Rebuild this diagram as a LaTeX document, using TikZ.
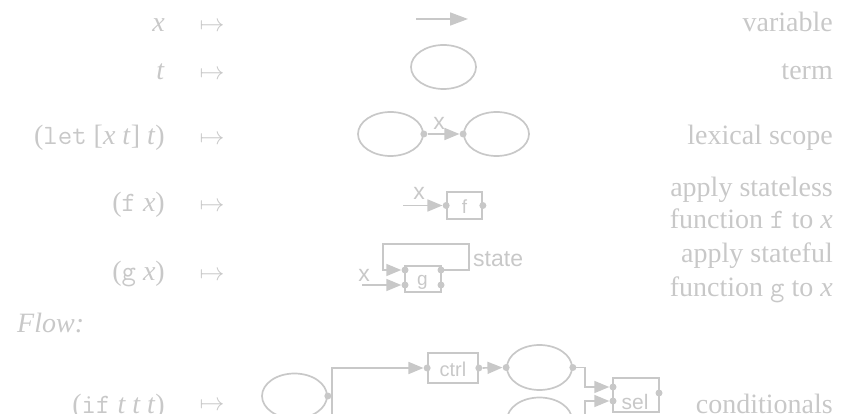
\documentclass[tikz,border=0pt]{standalone}
\usepackage{fontspec}
\setmainfont{Liberation Serif}
\setsansfont{Liberation Sans}
\usetikzlibrary{arrows.meta,shapes.geometric}
\definecolor{fg}{RGB}{200,200,200}
\begin{document}
\begin{tikzpicture}[x=1pt,y=-1pt,
  every node/.style={text=fg},
  txt/.style={font=\fontsize{28}{32}\selectfont, anchor=base east, inner sep=0},
  mapst/.style={font=\fontsize{26}{30}\selectfont, anchor=base, inner sep=0},
  lbl/.style={font=\sffamily\fontsize{23}{25}\selectfont, inner sep=0},
  boxlbl/.style={font=\sffamily\fontsize{20}{22}\selectfont, inner sep=0, anchor=base},
  termell/.style={draw=fg, line width=1.7pt, ellipse, minimum width=65pt, minimum height=44pt, inner sep=0},
  fnbox/.style={draw=fg, line width=1.7pt, rectangle, inner sep=0},
  wire/.style={draw=fg, line width=1.7pt},
  arr/.style={wire, -{Triangle[length=15pt,width=12pt]}},
  bigarr/.style={wire, -{Triangle[length=18pt,width=13pt]}},
  jdot/.style={circle, fill=fg, minimum size=7pt, inner sep=0}
]
\useasboundingbox (0,0) rectangle (844,414);
\clip (0,0) rectangle (844,414);

% row 1: variable
\node[txt] (x1) at (165,32) {\textit{x}};
\node[mapst] (m1) at (212,32) {$\mapsto$};
\coordinate (v1a) at (416,19);
\coordinate (v1b) at (468,19);
\draw[bigarr] (v1a) -- (v1b);
\node[txt] (d1) at (833,32) {variable};

% row 2: term
\node[txt] (x2) at (165,80) {\textit{t}};
\node[mapst] (m2) at (212,80) {$\mapsto$};
\node[termell] (t2) at (443.5,67) {};
\node[txt] (d2) at (833,80) {term};

% row 3: lexical scope
\node[txt] (x3) at (165,145) {(\texttt{let} [\textit{x t}] \textit{t})};
\node[mapst] (m3) at (212,145) {$\mapsto$};
\node[termell] (l3a) at (390.5,134) {};
\node[termell] (l3b) at (496.5,134) {};
\node[jdot] (l3ad) at (l3a.east) {};
\node[jdot] (l3bd) at (l3b.west) {};
\draw[arr] (l3ad) -- (l3bd);
\node[lbl] (l3x) at (439,123) {x};
\node[txt] (d3) at (833,145) {lexical scope};

% row 4: stateless
\node[txt] (x4) at (165,212) {(\texttt{f} \textit{x})};
\node[mapst] (m4) at (212,212) {$\mapsto$};
\node[fnbox, minimum width=35pt, minimum height=27pt] (fb) at (464.5,205.5) {};
\node[boxlbl, font=\sffamily\fontsize{19}{20}\selectfont] (fl) at (464.5,214) {f};
\node[jdot] (fbi) at (fb.west) {};
\node[jdot] (fbo) at (fb.east) {};
\coordinate (fin) at (403,205.5);
\draw[arr] (fin) -- (fbi);
\node[lbl] (fx) at (419,193) {x};
\node[txt] (d4a) at (833,197) {apply stateless};
\node[txt] (d4b) at (833,229) {function \texttt{f} to \textit{x}};

% row 5: stateful
\node[txt] (x5) at (165,281) {(\texttt{g} \textit{x})};
\node[mapst] (m5) at (212,281) {$\mapsto$};
\node[fnbox, minimum width=36pt, minimum height=26pt] (gb) at (423,279) {};
\node[boxlbl, font=\sffamily\fontsize{19}{20}\selectfont] (gl) at (422.5,285.5) {g};
\node[jdot] (gi1) at (405,270) {};
\node[jdot] (gi2) at (405,285) {};
\node[jdot] (go1) at (441,270) {};
\node[jdot] (go2) at (441,285) {};
\coordinate (c5a) at (469,270);
\coordinate (c5b) at (469,244);
\coordinate (c5c) at (383,244);
\coordinate (c5d) at (383,270);
\draw[arr] (go1.center) -- (c5a) -- (c5b) -- (c5c) -- (c5d) -- (gi1);
\coordinate (gin) at (362,285);
\draw[arr] (gin) -- (gi2);
\node[lbl] (gx) at (364,275) {x};
\node[lbl, anchor=base west] (gs) at (473,267) {state};
\node[txt] (d5a) at (833,263) {apply stateful};
\node[txt] (d5b) at (833,297) {function \texttt{g} to \textit{x}};

% Flow
\node[font=\fontsize{28}{32}\selectfont\itshape, anchor=base west, inner sep=0] (flow) at (17,332) {Flow:};

% row 6: conditionals
\node[txt] (x6) at (165,413) {(\texttt{if} \textit{t t t})};
\node[mapst] (m6) at (212,410) {$\mapsto$};
\node[termell, minimum height=45pt] (cond) at (294.5,396) {};
\node[jdot] (condo) at (cond.east) {};
\coordinate (j1) at (332,396);
\coordinate (j0) at (332,440);
\draw[wire] (condo.center) -- (j1);
\node[fnbox, minimum width=50pt, minimum height=30pt] (ctrl) at (453,368) {};
\node[boxlbl] (ctrll) at (453,376.5) {ctrl};
\node[jdot] (ctrli) at (ctrl.west) {};
\node[jdot] (ctrlo) at (ctrl.east) {};
\draw[arr] (j0) |- (ctrli);
\node[termell, minimum height=45pt] (then) at (539.5,367.5) {};
\node[jdot] (theni) at (then.west) {};
\node[jdot] (theno) at (then.east) {};
\draw[arr] (ctrlo) -- (theni);
\node[termell, minimum height=45pt] (else) at (539.5,420) {};
\node[jdot] (elseo) at (else.east) {};
\node[fnbox, minimum width=46pt, minimum height=34pt] (sel) at (636,395) {};
\node[boxlbl, font=\sffamily\fontsize{21}{22}\selectfont] (sell) at (635,409) {sel};
\node[jdot] (seli1) at (613,387) {};
\node[jdot] (seli2) at (613,401) {};
\node[jdot] (selo) at (659,393) {};
\coordinate (k1) at (585,367.5);
\coordinate (k2) at (585,420);
\draw[arr] (theno.center) -- (k1) |- (seli1);
\draw[arr] (elseo.center) -- (k2) |- (seli2);
\node[txt] (d6) at (833,413) {conditionals};
\end{tikzpicture}
\end{document}
